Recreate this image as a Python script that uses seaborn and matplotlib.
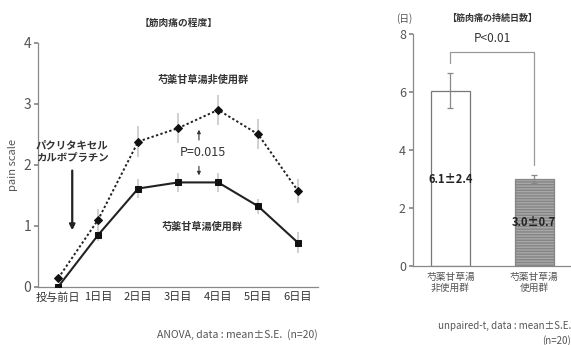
import numpy as np
import pandas as pd
import matplotlib
matplotlib.use("Agg")
import matplotlib.pyplot as plt
import seaborn as sns

# ---- data ----
days = ["投与前日", "1日目", "2日目", "3日目", "4日目", "5日目", "6日目"]
non_use_mean = [0.14, 1.10, 2.38, 2.60, 2.90, 2.50, 1.57]
non_use_se = [0.05, 0.17, 0.25, 0.25, 0.25, 0.25, 0.20]
use_mean = [0.00, 0.85, 1.61, 1.71, 1.71, 1.32, 0.72]
use_se = [0.02, 0.10, 0.15, 0.15, 0.15, 0.12, 0.17]

groups = ["芍薬甘草湯\n非使用群", "芍薬甘草湯\n使用群"]
dur_mean = [6.05, 3.0]
dur_se = [0.6, 0.15]
dur_labels = ["6.1±2.4", "3.0±0.7"]

sns.set_theme(style="white")
plt.rcParams["font.family"] = ["Noto Sans CJK JP", "DejaVu Sans"]

fig = plt.figure(figsize=(5.71, 3.45), dpi=100)
ax1 = fig.add_axes([0.067, 0.169, 0.49, 0.707])
ax2 = fig.add_axes([0.723, 0.229, 0.277, 0.672])

axis_col = "#888888"
txt_col = "#333333"

# ---- left: line chart ----
df = pd.DataFrame({
    "day": days * 2,
    "mean": non_use_mean + use_mean,
    "se": non_use_se + use_se,
    "group": ["non"] * len(days) + ["use"] * len(days),
})
xpos = np.arange(len(days))
for g, se in (("non", non_use_se), ("use", use_se)):
    sub = df[df.group == g]
    ax1.errorbar(xpos, sub["mean"], yerr=se, fmt="none", ecolor="#c8c8c8",
                 elinewidth=1.2, capsize=0, zorder=1)

sns.lineplot(data=df[df.group == "non"], x="day", y="mean", ax=ax1, sort=False,
             color="#222222", linewidth=1.4, linestyle=(0, (1.2, 1.2)),
             marker="D", markersize=4, markeredgecolor="#111111",
             markerfacecolor="#111111", zorder=3)
sns.lineplot(data=df[df.group == "use"], x="day", y="mean", ax=ax1, sort=False,
             color="#222222", linewidth=1.5, marker="s", markersize=4,
             markeredgecolor="#111111", markerfacecolor="#111111", zorder=3)

ax1.set_xlim(-0.5, 6.5)
ax1.set_ylim(0, 4)
ax1.set_yticks([0, 1, 2, 3, 4])
ax1.set_xticks(xpos)
ax1.set_xticklabels(days, fontsize=8, color=txt_col)
ax1.set_xticks(np.arange(0.5, 7, 1), minor=True)
ax1.tick_params(axis="x", which="major", length=0, pad=4)
ax1.tick_params(axis="x", which="minor", length=4, direction="in", color=axis_col, width=0.8)
ax1.tick_params(axis="y", length=3, color=axis_col, labelsize=10, labelcolor="#555555", pad=2, left=True)
ax1.set_xlabel("")
ax1.set_ylabel("pain scale", fontsize=8, color="#555555", labelpad=4)
for s in ("top", "right"):
    ax1.spines[s].set_visible(False)
for s in ("left", "bottom"):
    ax1.spines[s].set_color(axis_col)
    ax1.spines[s].set_linewidth(0.9)

ax1.set_title("【筋肉痛の程度】", fontsize=7, fontweight="bold", color=txt_col, pad=12)
ax1.text(3.62, 3.39, "芍薬甘草湯非使用群", ha="center", va="center", fontsize=7.3,
         fontweight="bold", color=txt_col)
ax1.text(3.6, 0.98, "芍薬甘草湯使用群", ha="center", va="center", fontsize=7.3,
         fontweight="bold", color=txt_col)
ax1.text(0.35, 2.22, "パクリタキセル\nカルボプラチン", ha="center", va="center",
         fontsize=7.5, fontweight="bold", color=txt_col, linespacing=1.3)
ax1.annotate("", xy=(0.35, 0.88), xytext=(0.35, 1.95),
             arrowprops=dict(arrowstyle="-|>", color="#222222", lw=1.6,
                             mutation_scale=8))
ax1.text(3.62, 2.2, "P=0.015", ha="center", va="center", fontsize=9,
         color=txt_col)
ax1.annotate("", xy=(3.52, 2.62), xytext=(3.52, 2.36),
             arrowprops=dict(arrowstyle="-|>", color="#333333", lw=0.8, mutation_scale=5))
ax1.annotate("", xy=(3.52, 1.78), xytext=(3.52, 2.02),
             arrowprops=dict(arrowstyle="-|>", color="#333333", lw=0.8, mutation_scale=5))
fig.text(318 / 571, 1 - 335 / 345, "ANOVA, data : mean±S.E.  (n=20)", ha="right",
         va="center", fontsize=7.5, color="#555555")

# ---- right: bar chart ----
bdf = pd.DataFrame({"group": groups, "mean": dur_mean})
sns.barplot(data=bdf, x="group", y="mean", ax=ax2, width=0.47,
            color="white", edgecolor="#777777", linewidth=0.9, zorder=2)
p0, p1 = ax2.patches[0], ax2.patches[1]
p0.set_facecolor("white")
p1.set_facecolor("#a8a8a8")
p1.set_hatch("------")
p1.set_edgecolor("#858585")

ax2.errorbar([0, 1], dur_mean, yerr=dur_se, fmt="none", ecolor="#888888",
             elinewidth=0.9, capsize=2.5, capthick=0.9, zorder=3)
for i, lab in enumerate(dur_labels):
    ax2.text(i, [3.0, 1.5][i], lab, ha="center", va="center", fontsize=8,
             fontweight="bold", color="#222222", zorder=4)

ax2.plot([0, 0, 1, 1], [7.0, 7.4, 7.4, 3.5], color="#999999", lw=0.9, zorder=1)
ax2.text(0.5, 7.85, "P<0.01", ha="center", va="center", fontsize=8.5, color=txt_col)

ax2.set_xlim(-0.45, 1.44)
ax2.set_ylim(0, 8)
ax2.set_yticks([0, 2, 4, 6, 8])
ax2.tick_params(axis="y", length=3, color=axis_col, labelsize=9, labelcolor="#555555", pad=2, left=True)
ax2.tick_params(axis="x", length=0, labelsize=7, labelcolor="#555555", pad=4)
ax2.set_xlabel("")
ax2.set_ylabel("")
for s in ("top", "right"):
    ax2.spines[s].set_visible(False)
for s in ("left", "bottom"):
    ax2.spines[s].set_color(axis_col)
    ax2.spines[s].set_linewidth(0.9)
ax2.text(-0.45, 8.55, "(日)", ha="right", va="center", fontsize=7, color="#555555",
         clip_on=False)
ax2.text(0.5, 8.55, "【筋肉痛の持続日数】", ha="center", va="center", fontsize=6.5,
         fontweight="bold", color=txt_col, clip_on=False)
fig.text(1.0, 1 - 326 / 345, "unpaired-t, data : mean±S.E.", ha="right",
         va="center", fontsize=7, color="#555555")
fig.text(1.0, 1 - 341 / 345, "(n=20)", ha="right", va="center", fontsize=7,
         color="#555555")

fig.savefig("out.png", dpi=100)
